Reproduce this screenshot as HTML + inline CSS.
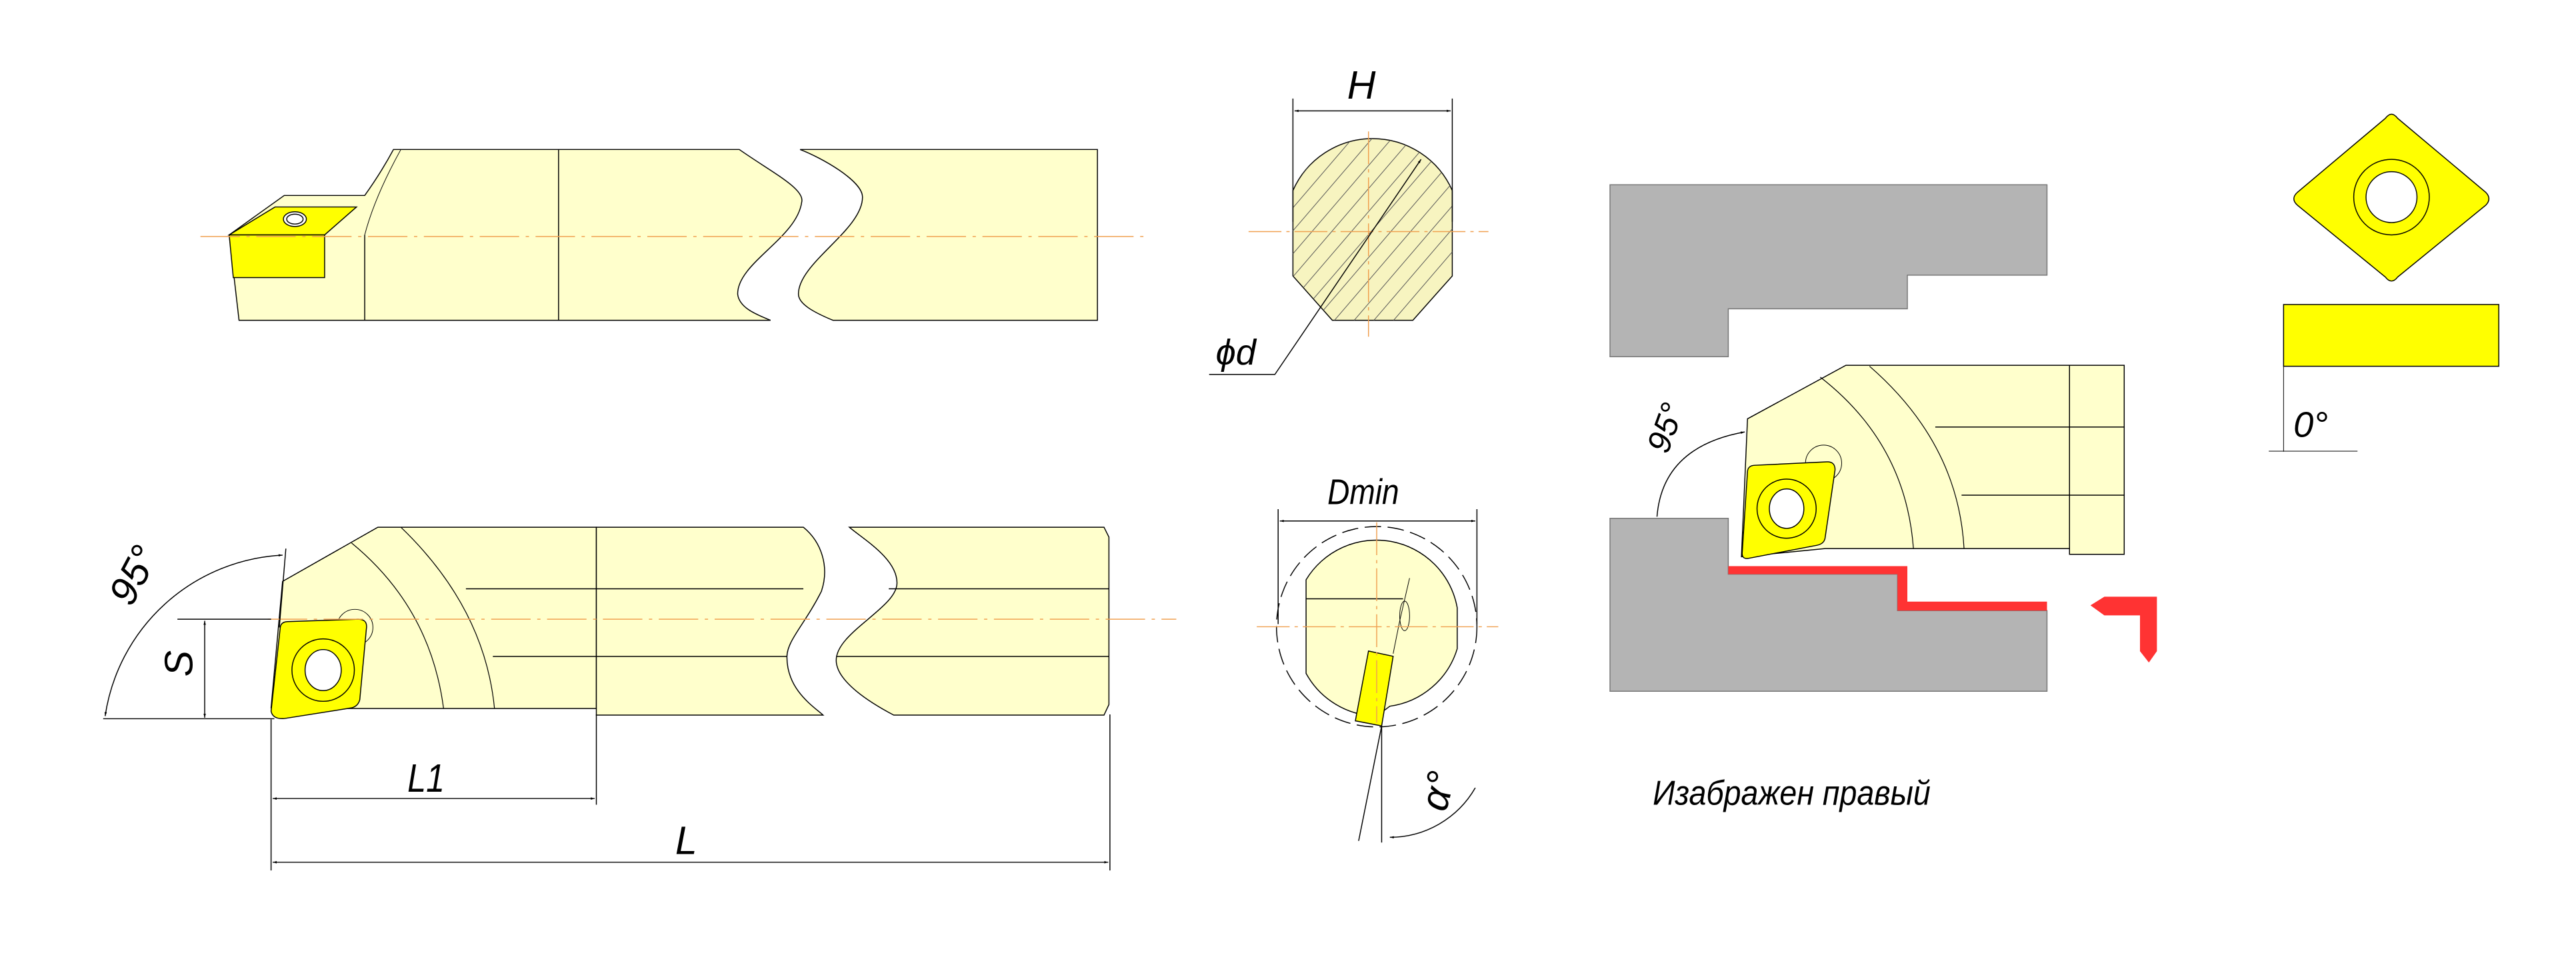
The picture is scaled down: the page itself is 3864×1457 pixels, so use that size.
<!DOCTYPE html>
<html><head><meta charset="utf-8"><style>
html,body{margin:0;padding:0;background:#fff;}
svg{display:block;}
text{font-family:"Liberation Sans","DejaVu Sans",sans-serif;font-style:italic;fill:#000;}
</style></head><body>
<svg width="3864" height="1457" viewBox="0 0 1568 591.2" xmlns="http://www.w3.org/2000/svg">
<defs>
<marker id="ar" viewBox="0 0 10 10" refX="10" refY="5" markerWidth="6" markerHeight="4" orient="auto-start-reverse"><path d="M0,2 L10,5 L0,8 Z" fill="#000"/></marker>
<clipPath id="sec"><path d="M787,116 A53,53 0 0 1 884,116 L884,168 L860,195 L811,195 L787,168 Z"/></clipPath>
</defs>
<g stroke="#000" stroke-width="0.6" fill="none">

<!-- TOP TOOL -->
<path d="M139.5,143 L173,119 L222,119 Q232,105 239.5,91 L450,91 C470,105 490,115 488,123 C485,145 449,160 449,179 C450,188 462,192 469,195 L145.5,195 Z" fill="#ffffcc"/>
<path d="M487,91 L668,91 L668,195 L507,195 C495,190 486,185 486,179 C486,160 525,140 525,120 C525,110 500,96 487,91 Z" fill="#ffffcc"/>
<line x1="222" y1="143" x2="222" y2="195"/>
<line x1="340" y1="91" x2="340" y2="195"/>
<path d="M222,143 Q228,120 244,91" stroke-width="0.4"/>
<path d="M139.5,143 L167.4,126 L217,126 L197.6,143 Z" fill="#ffff00"/>
<path d="M139.5,143 L197.6,143 L197.6,169 L142,169 Z" fill="#ffff00"/>
<ellipse cx="179.5" cy="133.4" rx="7" ry="4.5" fill="#fff"/>
<ellipse cx="179.5" cy="133.4" rx="5" ry="3" />
<line x1="122" y1="144" x2="697" y2="144" stroke="#f0a050" stroke-dasharray="24,4,2,4"/>

<!-- BOTTOM TOOL -->
<path d="M172,354 L230,321 L363,321 L363,431.4 L216,431.4 L165,431 Z" fill="#ffffcc"/>
<path d="M363,321 L489,321 C500,330 505,345 500,360 C490,380 479,390 479,400 C479,420 495,430 501,435.4 L363,435.4 Z" fill="#ffffcc"/>
<path d="M517,321 L672,321 L675,327 L675,429 L672,435.4 L544,435.4 C530,428 509,415 509,402 C509,385 546,370 546,355 C546,340 525,328 517,321 Z" fill="#ffffcc"/>
<line x1="283.6" y1="358.5" x2="489" y2="358.5"/><line x1="300" y1="399.7" x2="479" y2="399.7"/>
<line x1="541" y1="358.5" x2="675" y2="358.5"/><line x1="509" y1="399.7" x2="675" y2="399.7"/>
<path d="M214,330.6 Q262,370 270,431.4" stroke-width="0.5"/>
<path d="M244,321 Q295,370 301,431.4" stroke-width="0.5"/>
<circle cx="216" cy="382" r="11" fill="#ffffcc" stroke-width="0.4"/>
<path d="M170.6,382 Q171,378.7 175,378.5 L218,377 Q224,377 223,383 L219,426 Q218,430 214,431 L173,437.5 Q166,438 165,433 Z" fill="#ffff00"/>
<circle cx="196.7" cy="408" r="19"/><ellipse cx="196.7" cy="408" rx="11" ry="12.5" fill="#fff"/>
<line x1="163" y1="377" x2="716" y2="377" stroke="#f0a050" stroke-dasharray="24,4,2,4"/>
<!-- S -->
<line x1="108" y1="377" x2="165" y2="377"/>
<line x1="62.8" y1="437.6" x2="167" y2="437.6"/>
<line x1="124.6" y1="378" x2="124.6" y2="437" marker-start="url(#ar)" marker-end="url(#ar)"/>
<!-- 95 -->
<path d="M64,436 A115,115 0 0 1 172,338" marker-start="url(#ar)" marker-end="url(#ar)"/>
<line x1="174" y1="334" x2="170" y2="382"/>
<!-- L1 L -->
<line x1="165" y1="438" x2="165" y2="530"/><line x1="363" y1="435" x2="363" y2="490"/><line x1="675.6" y1="435" x2="675.6" y2="530"/>
<line x1="166" y1="486.2" x2="362" y2="486.2" marker-start="url(#ar)" marker-end="url(#ar)"/>
<line x1="166" y1="525" x2="674.6" y2="525" marker-start="url(#ar)" marker-end="url(#ar)"/>

<!-- SECTION H -->
<path d="M787,116 A53,53 0 0 1 884,116 L884,168 L860,195 L811,195 L787,168 Z" fill="#f7f4c0"/>
<g clip-path="url(#sec)" stroke-width="0.4" stroke="#555">
<path d="M760,200 L880,60 M772,200 L892,60 M784,200 L904,60 M796,200 L916,60 M808,200 L928,60 M820,200 L940,60 M832,200 L952,60 M844,200 L964,60 M748,200 L868,60 M736,200 L856,60 M724,200 L844,60 M712,200 L832,60 M700,200 L820,60 M688,200 L808,60"/>
</g>
<line x1="760" y1="141" x2="906" y2="141" stroke="#f0a050" stroke-dasharray="20,3,2,3"/>
<line x1="833" y1="80" x2="833" y2="205" stroke="#f0a050" stroke-dasharray="20,3,2,3"/>
<line x1="787" y1="60" x2="787" y2="135"/><line x1="884" y1="60" x2="884" y2="135"/>
<line x1="788" y1="67.5" x2="883" y2="67.5" marker-start="url(#ar)" marker-end="url(#ar)"/>
<path d="M736,228 L776,228 L865,97" marker-end="url(#ar)"/>

<!-- DMIN SECTION -->
<circle cx="838" cy="381.6" r="61" stroke-dasharray="10,4" />
<path d="M795,353 A50,50 0 0 1 887,370 L887,395 A50,50 0 0 1 846,430 L838,436 A50,50 0 0 1 795,410 Z" fill="#ffffcc"/>
<line x1="795" y1="364.6" x2="854" y2="364.6"/>
<path d="M858,352 L852,378 L848,398" stroke-width="0.4"/>
<ellipse cx="855" cy="375" rx="3" ry="9" stroke-width="0.4"/>
<path d="M833,396.4 L848,399.6 L841,442 L825,438.9 Z" fill="#ffff00"/>
<line x1="765" y1="381.6" x2="912" y2="381.6" stroke="#f0a050" stroke-dasharray="20,3,2,3"/>
<line x1="838" y1="318" x2="838" y2="440" stroke="#f0a050" stroke-dasharray="20,3,2,3"/>
<line x1="778" y1="310" x2="778" y2="380"/><line x1="899" y1="310" x2="899" y2="380"/>
<line x1="779" y1="317.2" x2="898" y2="317.2" marker-start="url(#ar)" marker-end="url(#ar)"/>
<line x1="841" y1="442" x2="841" y2="513"/><line x1="841" y1="442" x2="827" y2="512"/>
<path d="M846,509.8 A60,60 0 0 0 898,479.7" marker-start="url(#ar)"/>

<!-- WORKPIECE -->
<path d="M980,112.5 L1246,112.5 L1246,167.5 L1161,167.5 L1161,188 L1052,188 L1052,217.2 L980,217.2 Z" fill="#b4b4b4" stroke="#777"/>
<path d="M980,315.6 L1052,315.6 L1052,349.6 L1155,349.6 L1155,371.8 L1246,371.8 L1246,420.9 L980,420.9 Z" fill="#b4b4b4" stroke="#777"/>
<path d="M1052,344.7 L1161,344.7 L1161,366.3 L1246,366.3 L1246,371.8 L1155,371.8 L1155,349.6 L1052,349.6 Z" fill="#ff3333" stroke="none"/>
<path d="M1273,368.6 L1281,363.6 L1312.6,363.6 L1312.6,396.4 L1308,402.9 L1302.9,396.4 L1302.9,374.4 L1281,374.4 Z" fill="#ff3333" stroke="#ff3333"/>

<!-- RIGHT VIEW TOOL -->
<path d="M1063.7,255 L1123.6,222.4 L1293,222.4 L1293,337.5 L1259.7,337.5 L1259.7,334 L1111,334 L1060,339 Z" fill="#ffffcc"/>
<line x1="1259.7" y1="222.4" x2="1259.7" y2="337.5"/>
<line x1="1178" y1="260" x2="1293" y2="260"/><line x1="1194" y1="301.5" x2="1293" y2="301.5"/>
<path d="M1108,229.6 Q1160,270 1164.7,334" stroke-width="0.5"/>
<path d="M1138,223 Q1192,270 1195.5,334" stroke-width="0.5"/>
<circle cx="1110" cy="282" r="11" fill="#ffffcc" stroke-width="0.4"/>
<path d="M1063.7,287 Q1064,283.5 1068,283.3 L1112,281.2 Q1117,281 1117,286 L1111,327 Q1110.7,331 1106,332 L1064,340 Q1060,340.5 1060.5,336 Z" fill="#ffff00"/>
<circle cx="1087.5" cy="309.7" r="18"/><ellipse cx="1087.5" cy="309.7" rx="10.5" ry="12" fill="#fff"/>
<path d="M1008.6,314.6 Q1012,272 1062,263" marker-end="url(#ar)"/>

<!-- INSERT VIEWS -->
<path d="M1452,72 Q1455.7,67 1459.4,72 L1513,117 Q1517,121 1513,125 L1459.4,168.7 Q1455.7,173.5 1452,168.7 L1398.5,125 Q1394,121 1398.5,117 Z" fill="#ffff00"/>
<circle cx="1455.7" cy="120" r="23"/><circle cx="1455.7" cy="120" r="15.5" fill="#fff"/>
<rect x="1390" y="185.4" width="131" height="37.6" fill="#ffff00"/>
<line x1="1390" y1="223" x2="1390" y2="275" stroke-width="0.4"/>
<line x1="1381" y1="274.7" x2="1435" y2="274.7" stroke-width="0.4"/>
</g>

<!-- TEXT -->
<g font-size="24">
<text x="248" y="482" transform="translate(248,482) scale(0.85,1) translate(-248,-482)">L1</text>
<text x="411" y="520">L</text>
<text transform="translate(117,412) rotate(-90)" font-size="24">S</text>
<text transform="translate(80,370) rotate(-62)" font-size="24">95°</text>
<text x="820" y="60" font-size="24">H</text>
<text x="740" y="222" font-size="22">ϕd</text>
<text x="808" y="307" font-size="22" transform="translate(808,307) scale(0.85,1) translate(-808,-307)">Dmin</text>
<text transform="translate(880,495) rotate(-75)" font-size="24">α°</text>
<text transform="translate(1015,277) rotate(-70)" font-size="20">95°</text>
<text x="1396" y="266" font-size="22">0°</text>
<text x="1006" y="490" font-size="21" transform="translate(1006,490) scale(0.9,1) translate(-1006,-490)">Изабражен правый</text>
</g>
</svg>
</body></html>
